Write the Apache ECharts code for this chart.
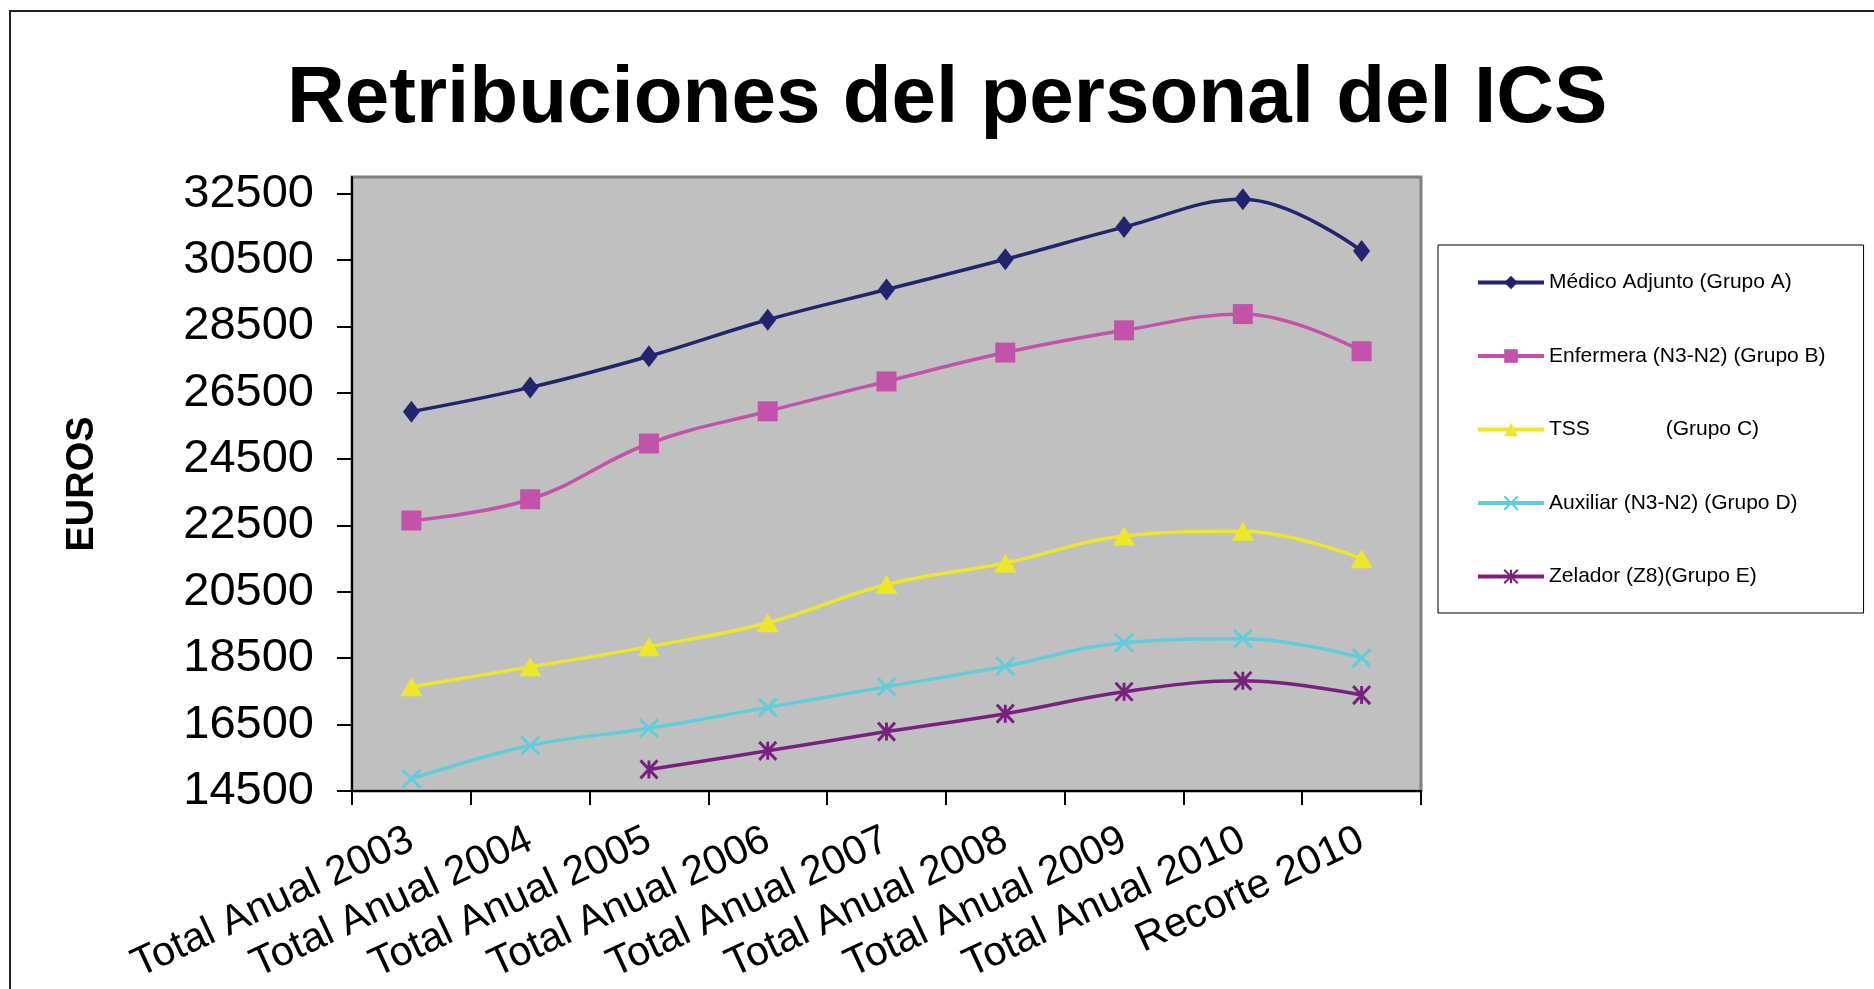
<!DOCTYPE html>
<html><head><meta charset="utf-8">
<script src="https://cdn.jsdelivr.net/npm/echarts@6/dist/echarts.min.js"></script>
<style>html,body{margin:0;padding:0;background:#fff}#c{width:1874px;height:989px}</style>
</head><body><div id="c"></div>
<script>
const categories = ['Total Anual 2003','Total Anual 2004','Total Anual 2005','Total Anual 2006','Total Anual 2007','Total Anual 2008','Total Anual 2009','Total Anual 2010','Recorte 2010'];
const yTicks = [14500,16500,18500,20500,22500,24500,26500,28500,30500,32500];
const seriesNames = ['Médico Adjunto (Grupo A)','Enfermera (N3-N2) (Grupo B)','TSS             (Grupo C)','Auxiliar (N3-N2) (Grupo D)','Zelador (Z8)(Grupo E)'];
const medico    = [25930, 26660, 27600, 28700, 29610, 30520, 31490, 32330, 30770];
const enfermera = [22650, 23290, 24970, 25940, 26840, 27710, 28380, 28870, 27750];
const tss       = [17640, 18240, 18850, 19570, 20720, 21370, 22180, 22330, 21500];
const auxiliar  = [14870, 15870, 16390, 17020, 17640, 18260, 18970, 19090, 18510];
const zelador   = [null, null, 15150, 15710, 16290, 16830, 17490, 17820, 17390];

const FONT = 'Liberation Sans, Arial, sans-serif';
const colors = ['#23246f','#c352ab','#ece62c','#62cdd9','#7a2080'];
const symbols = [
  'diamond',
  'rect',
  'triangle',
  'path://M0,0L10,10M10,0L0,10',
  'path://M0,0L10,10M10,0L0,10M5,0L5,10'
];
const sizes = [[17,22],[20,20],[22,19],[18,18],[17,18]];
const allData = [medico, enfermera, tss, auxiliar, zelador];

const chart = echarts.init(document.getElementById('c'), null, {renderer:'canvas'});
chart.setOption({
  backgroundColor: '#ffffff',
  animation: false,
  title: {
    text: 'Retribuciones del personal del ICS',
    left: 287, top: 60, padding: 0,
    textStyle: {fontFamily: FONT, fontSize: 80, fontWeight: 'bold', color: '#000'}
  },
  graphic: [
    {type:'rect', shape:{x:9, y:10, width:2, height:979}, style:{fill:'#222'}},
    {type:'rect', shape:{x:9, y:10, width:1865, height:2}, style:{fill:'#222'}}
  ],
  legend: {
    orient: 'vertical',
    left: 1438, top: 245,
    padding: [27, 38, 26, 38],
    itemWidth: 66, itemHeight: 17, itemGap: 52.5,
    borderColor: '#000', borderWidth: 1,
    backgroundColor: '#fff',
    lineStyle: {width: 4},
    textStyle: {fontFamily: FONT, fontSize: 21, color: '#000'},
    data: seriesNames
  },
  grid: {
    left: 352, top: 177, right: 453, bottom: 198,
    outerBoundsMode: 'none',
    containLabel: false,
    show: true, backgroundColor: '#c0c0c0', borderColor: '#808080', borderWidth: 3
  },
  xAxis: {
    type: 'category',
    data: categories,
    boundaryGap: true,
    axisLine: {lineStyle: {color: '#000', width: 2}},
    axisTick: {show: true, length: 14, interval: 0, lineStyle: {color: '#000', width: 2}},
    axisLabel: {interval: 0, rotate: 25, margin: 47, fontFamily: FONT, fontSize: 41, color: '#000'},
    splitLine: {show: false}
  },
  yAxis: {
    type: 'value',
    min: 14500, max: 33000,
    name: 'EUROS', nameLocation: 'middle', nameGap: 250,
    nameTextStyle: {fontFamily: FONT, fontSize: 38, fontWeight: 'bold', color: '#000'},
    axisLine: {show: true, lineStyle: {color: '#000', width: 2}},
    axisTick: {show: true, length: 15, customValues: yTicks, lineStyle: {color: '#000', width: 2}},
    axisLabel: {customValues: yTicks, margin: 38, fontFamily: FONT, fontSize: 47, color: '#000',
      formatter: v => String(v)},
    splitLine: {show: false}
  },
  series: seriesNames.map((n, i) => ({
    name: n,
    type: 'line',
    data: allData[i],
    smooth: 0.4,
    connectNulls: false,
    symbol: symbols[i],
    symbolSize: sizes[i],
    showAllSymbol: true,
    lineStyle: {color: colors[i], width: 3.5},
    itemStyle: {color: colors[i], borderColor: colors[i], borderWidth: i >= 3 ? 3 : 0}
  }))
});
</script></body></html>
